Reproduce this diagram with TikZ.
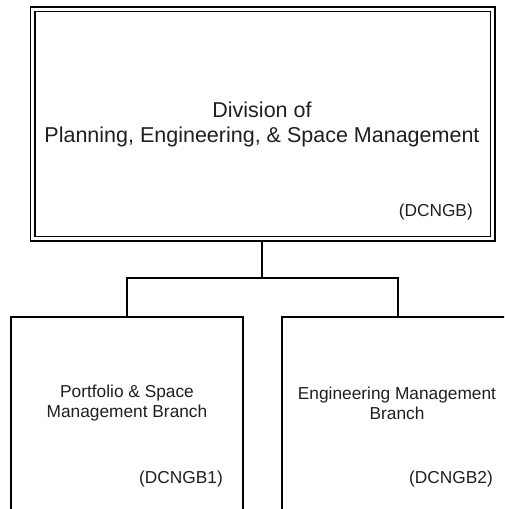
\documentclass[tikz,border=0pt]{standalone}
\usepackage{fontspec}
\setmainfont{Liberation Sans}
\begin{document}
\begin{tikzpicture}[x=1pt,y=-1pt,
  box/.style={draw=black,line width=1.5pt,inner sep=0pt},
  dbox/.style={draw=black,line width=1.6pt,double=white,double distance=2.8pt,inner sep=0pt},
  conn/.style={draw=black,line width=1.5pt},
  bigtxt/.style={align=center,inner sep=0pt,font=\fontsize{21.5}{25}\selectfont,text=black!88},
  smalltxt/.style={align=center,inner sep=0pt,font=\fontsize{17.3}{20}\selectfont,text=black!88}]
\useasboundingbox (0,0) rectangle (504,509);
\clip (0,0) rectangle (504,509);
\node[dbox,minimum width=460pt,minimum height=229.5pt] (div) at (262.5,124) {};
\node[box,minimum width=232pt,minimum height=214pt] (pf) at (127,424) {};
\node[box,minimum width=232pt,minimum height=214pt] (em) at (398,424) {};
\node[bigtxt] (divt) at (262,124.5) {Division of\\Planning, Engineering, \& Space Management};
\node[smalltxt,anchor=east] (divc) at (473,212) {(DCNGB)};
\node[smalltxt] (pft) at (127,403) {Portfolio \& Space\\Management Branch};
\node[smalltxt,anchor=east] (pfc) at (223,479) {(DCNGB1)};
\node[smalltxt] (emt) at (397,403) {Engineering Management\\Branch};
\node[smalltxt,anchor=east] (emc) at (493,479) {(DCNGB2)};
\coordinate (j) at (262,278);
\draw[conn] (j) -- (j |- div.south);
\draw[conn] (pf.north) |- (j) -| (em.north);
\end{tikzpicture}
\end{document}
